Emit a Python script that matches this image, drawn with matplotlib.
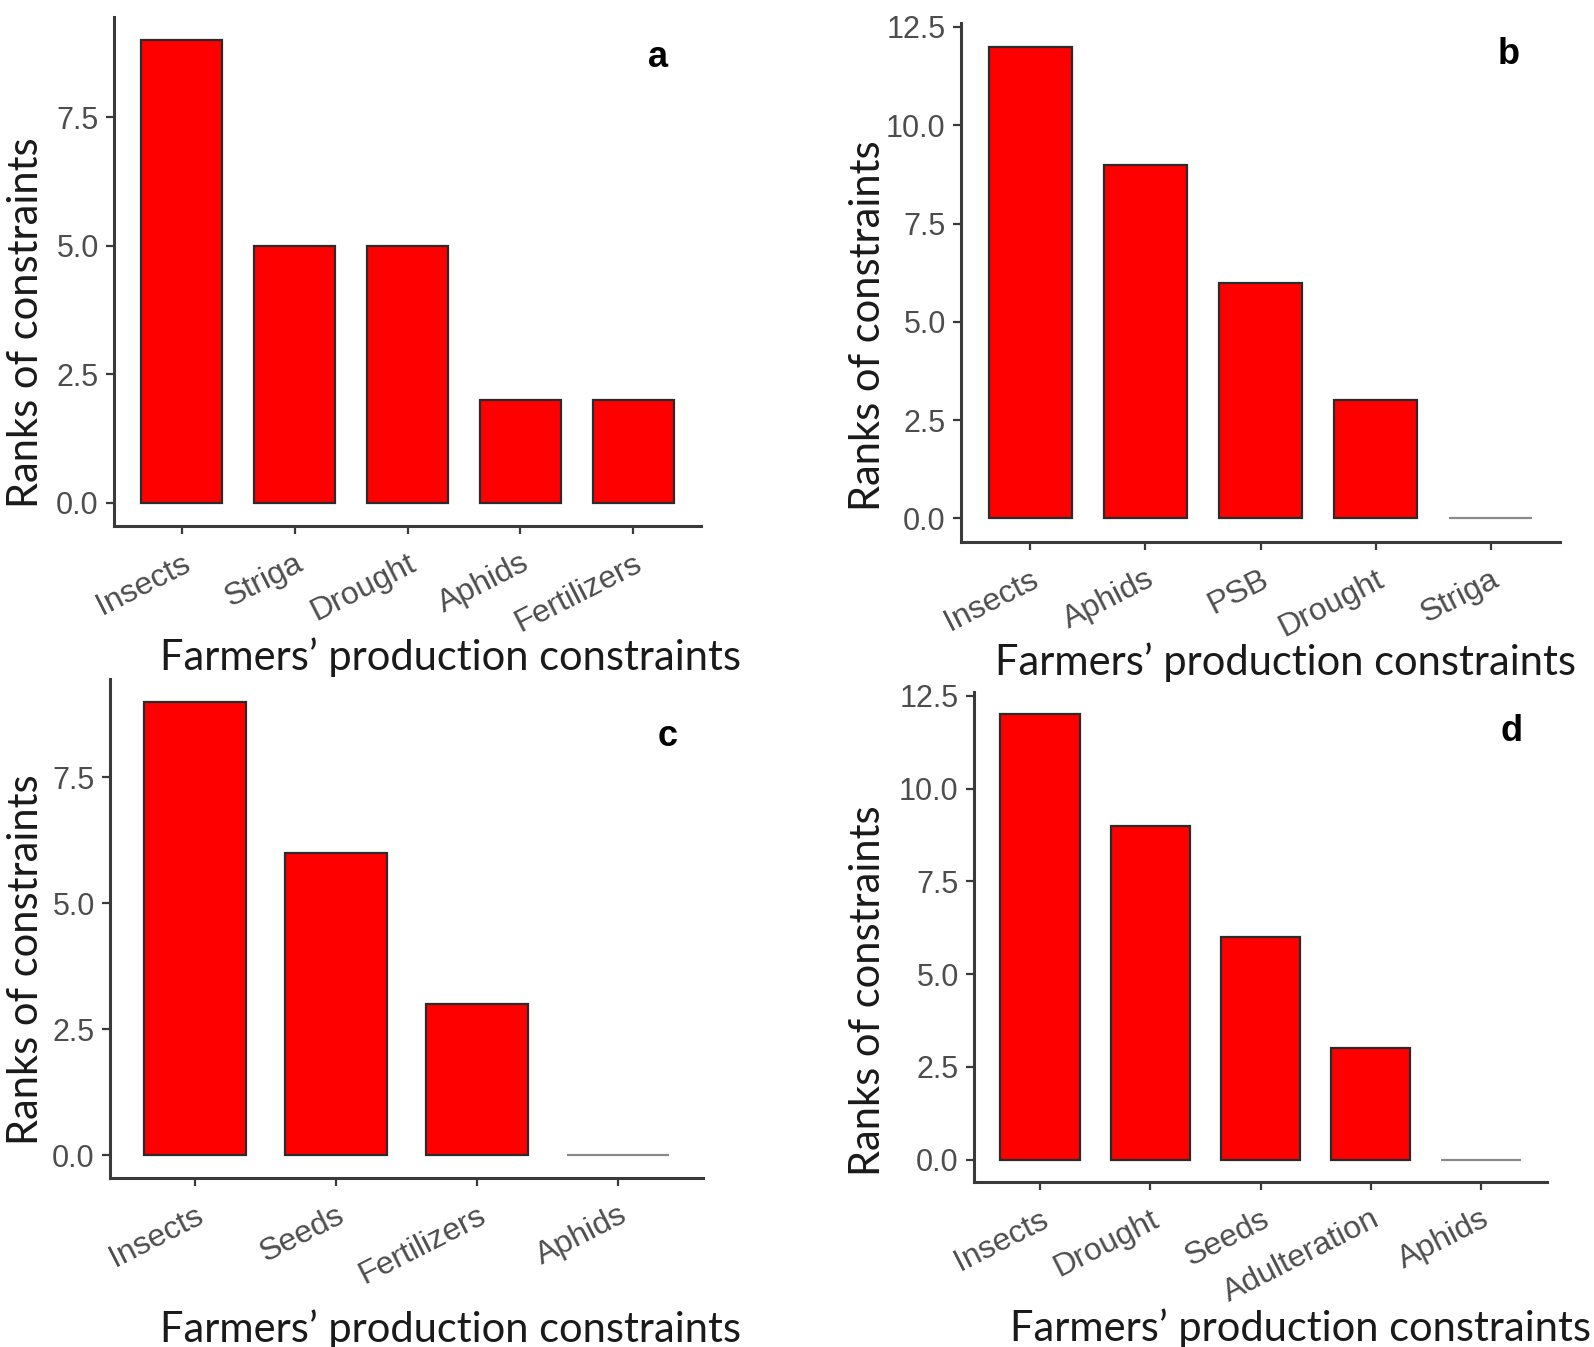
import matplotlib
matplotlib.use('Agg')
import matplotlib.pyplot as plt

W, H = 1594, 1347

# data, one set per panel
cats_a = ['Insects', 'Striga', 'Drought', 'Aphids', 'Fertilizers']
vals_a = [9, 5, 5, 2, 2]

cats_b = ['Insects', 'Aphids', 'PSB', 'Drought', 'Striga']
vals_b = [12, 9, 6, 3, 0]

cats_c = ['Insects', 'Seeds', 'Fertilizers', 'Aphids']
vals_c = [9, 6, 3, 0]

cats_d = ['Insects', 'Drought', 'Seeds', 'Adulteration', 'Aphids']
vals_d = [12, 9, 6, 3, 0]

yticks_small = [0, 2.5, 5, 7.5]
yticks_big = [0, 2.5, 5, 7.5, 10, 12.5]

TICK_FONT = 'Liberation Sans'
LABEL_FONT = 'Lato'
AXIS_COL = '#3a3a3a'
TICK_COL = '#4d4d4d'


def px_axes(fig, left, top, right, bottom):
    return fig.add_axes([left / W, 1 - bottom / H, (right - left) / W, (bottom - top) / H])


def draw_panel(ax, cats, vals, yticks, letter, letter_xy, xpad, ypad, xlab_x, ylab_y):
    n = len(cats)
    x = list(range(n))
    edges = ['#2b2b2b' if v > 0 else '#8a8a8a' for v in vals]
    ax.bar(x, vals, width=0.72, color='#ff0000', edgecolor=edges, linewidth=1.6)
    top = max(vals)
    ax.set_ylim(-0.05 * top, 1.05 * top)
    ax.set_xlim(-0.6, n - 0.4)
    ax.set_yticks(yticks)
    ax.set_yticklabels([f'{t:.1f}' for t in yticks], fontfamily=TICK_FONT,
                       fontsize=22, color=TICK_COL)
    ax.set_xticks(x)
    ax.set_xticklabels(cats, rotation=27, ha='right', rotation_mode='anchor',
                       fontfamily=TICK_FONT, fontsize=23, color=TICK_COL)
    ax.tick_params(axis='both', direction='out', length=6, width=1.6, color=AXIS_COL)
    ax.tick_params(axis='x', pad=10)
    ax.tick_params(axis='y', pad=5)
    for s in ['top', 'right']:
        ax.spines[s].set_visible(False)
    for s in ['left', 'bottom']:
        ax.spines[s].set_color(AXIS_COL)
        ax.spines[s].set_linewidth(2.2)
    ax.set_ylabel('Ranks of constraints', fontfamily=LABEL_FONT, fontsize=30,
                  color='#1a1a1a', labelpad=ypad)
    ax.set_xlabel('Farmers\u2019 production constraints', fontfamily=LABEL_FONT,
                  fontsize=30, color='#1a1a1a', labelpad=xpad)
    # labels sit a bit off-centre in the original
    ax.xaxis.label.set_x(xlab_x)
    ax.yaxis.label.set_y(ylab_y)
    ax.text(letter_xy[0], letter_xy[1], letter, transform=ax.transAxes,
            fontfamily='Liberation Sans', fontweight='bold', fontsize=26,
            ha='center', va='center', color='black')


fig = plt.figure(figsize=(W / 100, H / 100), dpi=100)

ax_a = px_axes(fig, 114, 17, 701, 526)
draw_panel(ax_a, cats_a, vals_a, yticks_small, 'a', (0.926, 0.92), 0, 8, 0.573, 0.40)

ax_b = px_axes(fig, 961, 23, 1560, 542)
draw_panel(ax_b, cats_b, vals_b, yticks_big, 'b', (0.915, 0.94), 0, -1, 0.542, 0.416)

ax_c = px_axes(fig, 110, 679, 703, 1178)
draw_panel(ax_c, cats_c, vals_c, yticks_small, 'c', (0.94, 0.885), 14, 5, 0.574, 0.4375)

ax_d = px_axes(fig, 974, 692, 1547, 1182)
draw_panel(ax_d, cats_d, vals_d, yticks_big, 'd', (0.938, 0.919), 0, 9, 0.569, 0.39)

fig.savefig('out.png', dpi=100, facecolor='white')
